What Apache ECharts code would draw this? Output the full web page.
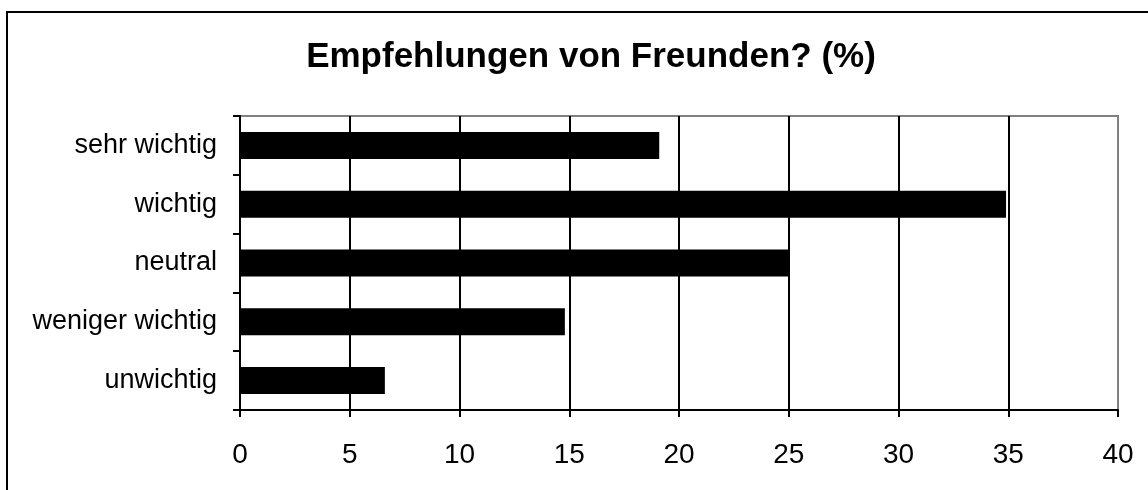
<!DOCTYPE html>
<html>
<head>
<meta charset="utf-8">
<script src="https://cdn.jsdelivr.net/npm/echarts@6/dist/echarts.min.js"></script>
<style>
  html, body { margin: 0; padding: 0; background: #fff; }
  #chart-target { width: 1148px; height: 490px; }
</style>
</head>
<body>
<div id="chart-target"></div>
<script>
  // Werte
  const categories = ['sehr wichtig', 'wichtig', 'neutral', 'weniger wichtig', 'unwichtig'];
  const percentValues = [19.1, 34.9, 25.0, 14.8, 6.6];
  const xTicks = [0, 5, 10, 15, 20, 25, 30, 35, 40];

  const font = '"Liberation Sans", Arial, sans-serif';
  const myChart = echarts.init(document.getElementById('chart-target'));
  myChart.setOption({
    animation: false,
    backgroundColor: '#fff',
    title: {
      text: 'Empfehlungen von Freunden? (%)',
      left: 586,
      textAlign: 'center',
      top: 35,
      textStyle: {
        fontFamily: font,
        fontSize: 35,
        fontWeight: 'bold',
        color: '#000'
      }
    },
    graphic: [
      {
        type: 'rect',
        shape: { x: 7, y: 12, width: 1200, height: 600 },
        style: { fill: null, stroke: '#000', lineWidth: 2 },
        silent: true
      }
    ],
    grid: {
      left: 240,
      right: 30,
      top: 116,
      bottom: 80,
      show: true,
      borderColor: '#808080',
      borderWidth: 2
    },
    xAxis: {
      type: 'value',
      min: xTicks[0],
      max: xTicks[xTicks.length - 1],
      interval: xTicks[1] - xTicks[0],
      axisLine: { show: true, lineStyle: { color: '#000', width: 2 } },
      axisTick: { show: true, length: 7, lineStyle: { color: '#000', width: 2 } },
      axisLabel: {
        margin: 31,
        fontFamily: font,
        fontSize: 28,
        color: '#000'
      },
      splitLine: {
        show: true,
        showMinLine: false,
        showMaxLine: false,
        lineStyle: { color: '#000', width: 2 }
      }
    },
    yAxis: {
      type: 'category',
      inverse: true,
      data: categories,
      axisLine: { show: true, lineStyle: { color: '#000', width: 2 } },
      axisTick: { show: true, inside: false, length: 7, lineStyle: { color: '#000', width: 2 } },
      axisLabel: {
        margin: 23,
        fontFamily: font,
        fontSize: 27,
        color: '#000'
      },
      splitLine: { show: false }
    },
    series: [
      {
        type: 'bar',
        data: percentValues,
        barCategoryGap: '54%',
        itemStyle: { color: '#000' }
      }
    ]
  });
</script>
</body>
</html>
